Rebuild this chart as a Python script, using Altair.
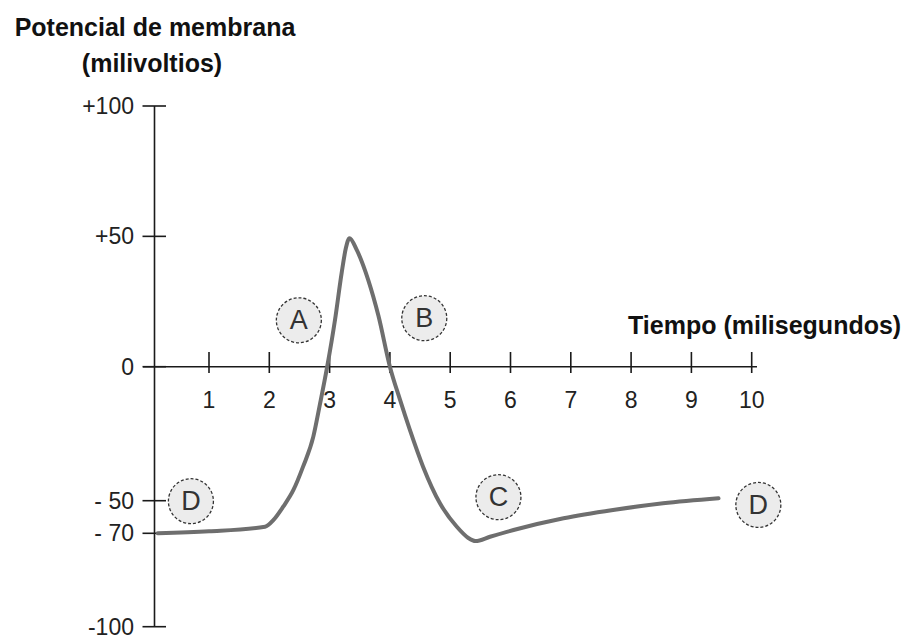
import altair as alt
import pandas as pd

# Action potential trace: time (ms) and membrane potential (mV)
time_ms = [0.15, 1.0, 1.93, 2.07, 2.23, 2.40, 2.56, 2.73, 2.84, 2.96,
           3.09, 3.20, 3.27, 3.33, 3.45, 3.64, 3.81, 4.00, 4.17, 4.33, 4.55,
           4.83, 5.11, 5.30, 5.42, 5.66, 6.05, 6.88, 7.70, 8.53, 9.45]
potential_mv = [-70, -68.8, -66, -61.8, -53.7, -46, -37.3, -26.1, -14, 0,
                18, 36, 45.5, 49.3, 44.8, 33.3, 19.5, 0, -12.5, -23.5, -37.3,
                -51.6, -66, -71.5, -72.5, -71.1, -68, -60.8, -55.7, -51.6, -49.1]

# Phase markers
phase_labels = ["A", "B", "C", "D", "D"]
phase_time = [2.49, 4.57, 5.80, 0.70, 10.11]
phase_mv = [17.8, 18.6, -48.7, -50.3, -52.6]

# Axis ticks
x_ticks = [1, 2, 3, 4, 5, 6, 7, 8, 9, 10]
y_ticks = [100, 50, 0, -50, -70, -100]
y_tick_labels = ["+100", "+50", "0", "- 50", "- 70", "-100"]

FONT = "Liberation Sans"
AXIS_COLOR = "#1a1a1a"

xs = alt.Scale(domain=[0, 10], range=[148.7, 751.7], nice=False, zero=False)
ys = alt.Scale(domain=[-100, -70, -50, 0, 100],
               range=[626.7, 533.3, 500.7, 366.7, 106], nice=False, zero=False)

trace = pd.DataFrame({"t": time_ms, "mv": potential_mv})
phases = pd.DataFrame({"label": phase_labels, "t": phase_time, "mv": phase_mv})
xt = pd.DataFrame({"t": x_ticks, "label": [str(v) for v in x_ticks], "zero": 0})
yt = pd.DataFrame({"mv": y_ticks, "label": y_tick_labels})
yaxis = pd.DataFrame({"lo": [-100], "hi": [100]})
xaxis = pd.DataFrame({"mv": [0]})

X = lambda f: alt.X(f, type="quantitative", scale=xs, axis=None)
Y = lambda f: alt.Y(f, type="quantitative", scale=ys, axis=None)

# Axis lines
y_line = alt.Chart(yaxis).mark_rule(color=AXIS_COLOR, strokeWidth=1.6).encode(
    x=alt.value(154.5), y=Y("lo"), y2="hi")
x_line = alt.Chart(xaxis).mark_rule(color=AXIS_COLOR, strokeWidth=1.6).encode(
    y=Y("mv"), x=alt.value(143), x2=alt.value(757))

# Tick marks crossing the axes
x_tick_marks = alt.Chart(xt).mark_rule(color=AXIS_COLOR, strokeWidth=1.6).encode(
    x=X("t"), y=alt.value(352), y2=alt.value(373))
y_tick_marks = alt.Chart(yt).mark_rule(color=AXIS_COLOR, strokeWidth=1.6).encode(
    y=Y("mv"), x=alt.value(142.5), x2=alt.value(166))

# Tick labels
x_tick_text = alt.Chart(xt).mark_text(
    font=FONT, fontSize=23, color="#222", align="center", baseline="middle", dy=34
).encode(x=X("t"), y=Y("zero"), text="label")
y_tick_text = alt.Chart(yt).mark_text(
    font=FONT, fontSize=23, color="#222", align="right", baseline="middle", dy=1
).encode(y=Y("mv"), x=alt.value(134), text="label")

# Membrane potential curve
curve = alt.Chart(trace).mark_line(
    color="#6e6e6e", strokeWidth=4, interpolate="monotone", strokeCap="round"
).encode(x=X("t"), y=Y("mv"))

# Phase circles and letters
circles = alt.Chart(phases).mark_point(
    shape="circle", filled=True, fill="#ececec", stroke="#333", strokeWidth=1.3,
    strokeDash=[3, 2], size=2025, opacity=1
).encode(x=X("t"), y=Y("mv"))
letters = alt.Chart(phases).mark_text(
    font=FONT, fontSize=27, color="#333", align="center", baseline="middle", dy=1
).encode(x=X("t"), y=Y("mv"), text="label")

# Axis titles
y_title1 = alt.Chart(yaxis).mark_text(
    font=FONT, fontSize=25, fontWeight="bold", color="#111", align="center",
    baseline="alphabetic").encode(x=alt.value(155), y=alt.value(36),
                                  text=alt.value("Potencial de membrana"))
y_title2 = alt.Chart(yaxis).mark_text(
    font=FONT, fontSize=25, fontWeight="bold", color="#111", align="center",
    baseline="alphabetic").encode(x=alt.value(152), y=alt.value(72),
                                  text=alt.value("(milivoltios)"))
x_title = alt.Chart(yaxis).mark_text(
    font=FONT, fontSize=25, fontWeight="bold", color="#111", align="left",
    baseline="alphabetic").encode(x=alt.value(628), y=alt.value(334),
                                  text=alt.value("Tiempo (milisegundos)"))

chart = alt.layer(
    y_line, x_line, x_tick_marks, y_tick_marks, x_tick_text, y_tick_text,
    curve, circles, letters, y_title1, y_title2, x_title
).properties(
    width=909, height=639, autosize=alt.AutoSizeParams(type="none"), padding=0,
    background="white"
).configure_view(stroke=None)

chart.save("out.html", embed_options={"renderer": "svg", "actions": False})
